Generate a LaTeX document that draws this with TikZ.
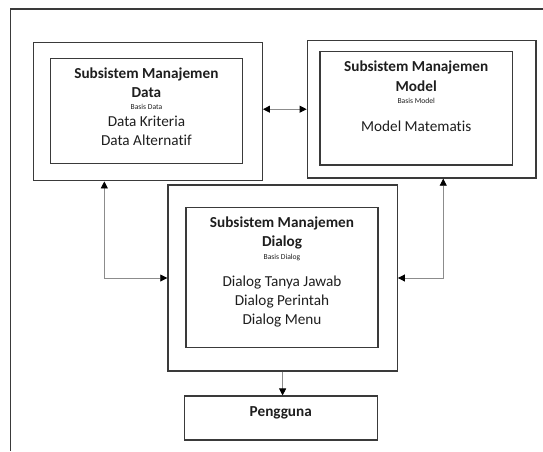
\documentclass[tikz,border=0pt]{standalone}
\usepackage{fontspec}
\setmainfont{Carlito}[Ligatures=NoCommon]
\usetikzlibrary{arrows.meta}
\usepackage{xcolor}
\definecolor{boxline}{HTML}{3A3A3A}
\definecolor{linkline}{HTML}{8C8C8C}
\definecolor{ink}{HTML}{1E1E1E}
\newcommand\basisline[1]{{\fontsize{6.5}{7}\selectfont #1}}

\begin{document}
\begin{tikzpicture}[
    >={Triangle[length=6pt,width=6pt,color=black]},
    font=\fontsize{13}{16.2}\selectfont,
    % boxes: plain dark-grey outline, nothing else
    frame/.style={draw=boxline, line width=1.1pt},
    outer/.style={frame, inner sep=0pt, minimum width=6.87cm},
    inner/.style={frame, inner sep=0pt, minimum width=5.76cm},
    % text block hangs from the top of its inner box
    caption/.style={anchor=north, inner sep=0pt, align=center, text=ink},
    link/.style={<->, draw=linkline, line width=0.7pt},
]
\useasboundingbox (0,0) rectangle (16.29,-13.53);

%================= page frame (cropped) =================%
\draw[frame] (16.29,-0.27) -- (0.31,-0.27) -- (0.31,-13.53);

%================= DATA =================%
\node[outer, minimum height=4.15cm] (dataout) at (4.434,-3.348) {};
\node[inner, minimum height=3.15cm] (datain)  at (4.392,-3.324) {};
\node[caption] (datatxt) at ([yshift=-0.3cm]datain.north)
    {\textbf{Subsistem Manajemen}\\\textbf{Data}\\[-6.4pt]\basisline{Basis Data}\\[-0.9pt]Data Kriteria\\Data Alternatif};

%================= MODEL =================%
\node[outer, minimum width=6.86cm, minimum height=4.13cm] (modelout) at (12.648,-3.276) {};
\node[inner, minimum width=5.77cm, minimum height=3.40cm] (modelin)  at (12.486,-3.249) {};
\node[caption] (modeltxt) at ([yshift=-0.3cm]modelin.north)
    {\textbf{Subsistem Manajemen}\\[0.5pt]\textbf{Model}\\[-5.8pt]\basisline{Basis Model}\\[7.3pt]Model Matematis};

%================= DIALOG =================%
\node[outer, minimum width=6.88cm, minimum height=5.58cm] (dlgout) at (8.478,-8.34) {};
\node[inner, minimum height=4.19cm] (dlgin)  at (8.46,-8.322) {};
\node[caption] (dlgtxt) at ([yshift=-0.3cm]dlgin.north)
    {\textbf{Subsistem Manajemen}\\\textbf{Dialog}\\[-5.3pt]\basisline{Basis Dialog}\\[6.4pt]Dialog Tanya Jawab\\Dialog Perintah\\Dialog Menu};

%================= USER =================%
\node[frame, text=ink, font=\fontsize{13}{16.2}\selectfont\bfseries, inner sep=0pt,
      minimum width=5.79cm, text height=17.5pt, text depth=19.9pt] (user) at (8.424,-12.54) {Pengguna};

%================= connectors =================%
\draw[link] (dataout.east |- modelout.west) -- (modelout.west);
\draw[link] ([xshift=2.15cm]dataout.south west) |- (dlgout.west);
\draw[link] ([xshift=-2.8cm]modelout.south east) |- (dlgout.east);
\draw[link, ->] (dlgout.south) -- (dlgout.south |- user.north);

\end{tikzpicture}
\end{document}
